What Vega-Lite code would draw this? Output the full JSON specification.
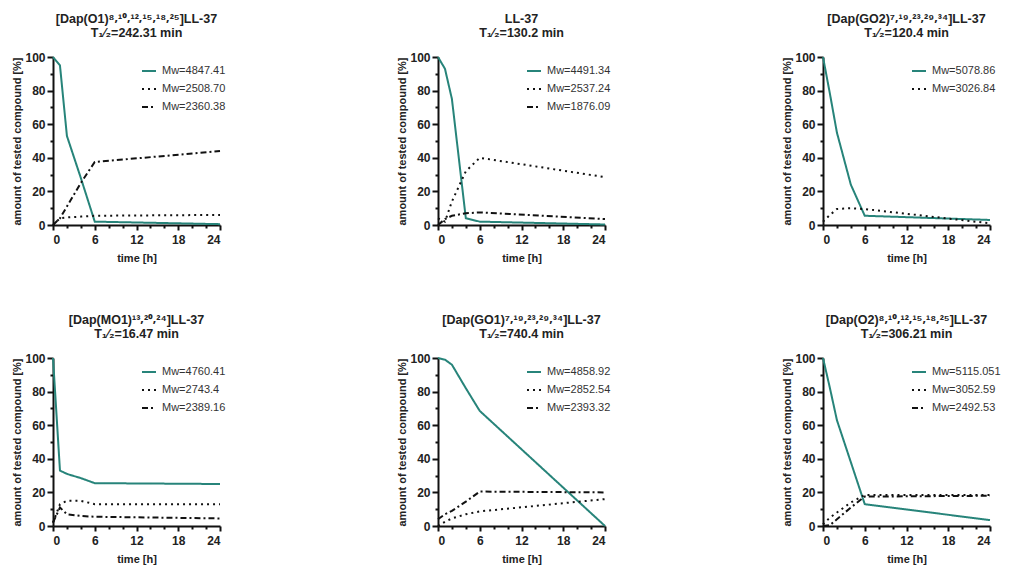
{
  "$schema": "https://vega.github.io/schema/vega-lite/v6.json",
  "background": "#ffffff",
  "padding": {"left": 11, "top": 13, "right": 0, "bottom": 8},
  "columns": 3,
  "spacing": {"row": 51, "column": 170},
  "data": {
    "values": [
      {"p": "O1", "s": "Mᴡ=4847.41", "k": 1, "t": 0, "v": 100},
      {"p": "O1", "s": "Mᴡ=4847.41", "k": 1, "t": 1, "v": 95},
      {"p": "O1", "s": "Mᴡ=4847.41", "k": 1, "t": 2, "v": 53},
      {"p": "O1", "s": "Mᴡ=4847.41", "k": 1, "t": 4, "v": 28},
      {"p": "O1", "s": "Mᴡ=4847.41", "k": 1, "t": 6, "v": 2},
      {"p": "O1", "s": "Mᴡ=4847.41", "k": 1, "t": 24, "v": 0.5},
      {"p": "O1", "s": "Mᴡ=2508.70", "k": 2, "t": 0, "v": 0},
      {"p": "O1", "s": "Mᴡ=2508.70", "k": 2, "t": 1, "v": 4},
      {"p": "O1", "s": "Mᴡ=2508.70", "k": 2, "t": 2, "v": 4.5},
      {"p": "O1", "s": "Mᴡ=2508.70", "k": 2, "t": 4, "v": 5},
      {"p": "O1", "s": "Mᴡ=2508.70", "k": 2, "t": 6, "v": 5.5},
      {"p": "O1", "s": "Mᴡ=2508.70", "k": 2, "t": 24, "v": 6},
      {"p": "O1", "s": "Mᴡ=2360.38", "k": 3, "t": 0, "v": 0},
      {"p": "O1", "s": "Mᴡ=2360.38", "k": 3, "t": 1, "v": 4},
      {"p": "O1", "s": "Mᴡ=2360.38", "k": 3, "t": 2, "v": 11},
      {"p": "O1", "s": "Mᴡ=2360.38", "k": 3, "t": 4, "v": 25},
      {"p": "O1", "s": "Mᴡ=2360.38", "k": 3, "t": 6, "v": 37.5},
      {"p": "O1", "s": "Mᴡ=2360.38", "k": 3, "t": 24, "v": 44},

      {"p": "LL", "s": "Mᴡ=4491.34", "k": 1, "t": 0, "v": 100},
      {"p": "LL", "s": "Mᴡ=4491.34", "k": 1, "t": 1, "v": 93},
      {"p": "LL", "s": "Mᴡ=4491.34", "k": 1, "t": 2, "v": 75},
      {"p": "LL", "s": "Mᴡ=4491.34", "k": 1, "t": 4, "v": 4},
      {"p": "LL", "s": "Mᴡ=4491.34", "k": 1, "t": 6, "v": 2},
      {"p": "LL", "s": "Mᴡ=4491.34", "k": 1, "t": 24, "v": 0.3},
      {"p": "LL", "s": "Mᴡ=2537.24", "k": 2, "t": 0, "v": 4},
      {"p": "LL", "s": "Mᴡ=2537.24", "k": 2, "t": 1, "v": 2},
      {"p": "LL", "s": "Mᴡ=2537.24", "k": 2, "t": 2, "v": 14},
      {"p": "LL", "s": "Mᴡ=2537.24", "k": 2, "t": 4, "v": 32},
      {"p": "LL", "s": "Mᴡ=2537.24", "k": 2, "t": 6, "v": 40},
      {"p": "LL", "s": "Mᴡ=2537.24", "k": 2, "t": 24, "v": 28.5},
      {"p": "LL", "s": "Mᴡ=1876.09", "k": 3, "t": 0, "v": 0},
      {"p": "LL", "s": "Mᴡ=1876.09", "k": 3, "t": 1, "v": 3.5},
      {"p": "LL", "s": "Mᴡ=1876.09", "k": 3, "t": 2, "v": 5.5},
      {"p": "LL", "s": "Mᴡ=1876.09", "k": 3, "t": 4, "v": 7},
      {"p": "LL", "s": "Mᴡ=1876.09", "k": 3, "t": 6, "v": 7.5},
      {"p": "LL", "s": "Mᴡ=1876.09", "k": 3, "t": 24, "v": 3.5},

      {"p": "GO2", "s": "Mᴡ=5078.86", "k": 1, "t": 0, "v": 100},
      {"p": "GO2", "s": "Mᴡ=5078.86", "k": 1, "t": 1, "v": 78},
      {"p": "GO2", "s": "Mᴡ=5078.86", "k": 1, "t": 2, "v": 55},
      {"p": "GO2", "s": "Mᴡ=5078.86", "k": 1, "t": 4, "v": 24},
      {"p": "GO2", "s": "Mᴡ=5078.86", "k": 1, "t": 6, "v": 5.5},
      {"p": "GO2", "s": "Mᴡ=5078.86", "k": 1, "t": 24, "v": 3},
      {"p": "GO2", "s": "Mᴡ=3026.84", "k": 2, "t": 0, "v": 2},
      {"p": "GO2", "s": "Mᴡ=3026.84", "k": 2, "t": 1, "v": 6},
      {"p": "GO2", "s": "Mᴡ=3026.84", "k": 2, "t": 2, "v": 9.5},
      {"p": "GO2", "s": "Mᴡ=3026.84", "k": 2, "t": 4, "v": 10},
      {"p": "GO2", "s": "Mᴡ=3026.84", "k": 2, "t": 6, "v": 9.5},
      {"p": "GO2", "s": "Mᴡ=3026.84", "k": 2, "t": 24, "v": 1},

      {"p": "MO1", "s": "Mᴡ=4760.41", "k": 1, "t": 0, "v": 100},
      {"p": "MO1", "s": "Mᴡ=4760.41", "k": 1, "t": 1, "v": 33},
      {"p": "MO1", "s": "Mᴡ=4760.41", "k": 1, "t": 2, "v": 31},
      {"p": "MO1", "s": "Mᴡ=4760.41", "k": 1, "t": 4, "v": 28.5},
      {"p": "MO1", "s": "Mᴡ=4760.41", "k": 1, "t": 6, "v": 25.5},
      {"p": "MO1", "s": "Mᴡ=4760.41", "k": 1, "t": 24, "v": 25},
      {"p": "MO1", "s": "Mᴡ=2743.4", "k": 2, "t": 0, "v": 2},
      {"p": "MO1", "s": "Mᴡ=2743.4", "k": 2, "t": 1, "v": 13},
      {"p": "MO1", "s": "Mᴡ=2743.4", "k": 2, "t": 2, "v": 15},
      {"p": "MO1", "s": "Mᴡ=2743.4", "k": 2, "t": 4, "v": 15},
      {"p": "MO1", "s": "Mᴡ=2743.4", "k": 2, "t": 6, "v": 13},
      {"p": "MO1", "s": "Mᴡ=2743.4", "k": 2, "t": 24, "v": 13},
      {"p": "MO1", "s": "Mᴡ=2389.16", "k": 3, "t": 0, "v": 2},
      {"p": "MO1", "s": "Mᴡ=2389.16", "k": 3, "t": 1, "v": 11},
      {"p": "MO1", "s": "Mᴡ=2389.16", "k": 3, "t": 2, "v": 7},
      {"p": "MO1", "s": "Mᴡ=2389.16", "k": 3, "t": 4, "v": 6},
      {"p": "MO1", "s": "Mᴡ=2389.16", "k": 3, "t": 6, "v": 5.5},
      {"p": "MO1", "s": "Mᴡ=2389.16", "k": 3, "t": 24, "v": 4.5},

      {"p": "GO1", "s": "Mᴡ=4858.92", "k": 1, "t": 0, "v": 100},
      {"p": "GO1", "s": "Mᴡ=4858.92", "k": 1, "t": 1, "v": 99},
      {"p": "GO1", "s": "Mᴡ=4858.92", "k": 1, "t": 2, "v": 96},
      {"p": "GO1", "s": "Mᴡ=4858.92", "k": 1, "t": 4, "v": 82},
      {"p": "GO1", "s": "Mᴡ=4858.92", "k": 1, "t": 6, "v": 68.5},
      {"p": "GO1", "s": "Mᴡ=4858.92", "k": 1, "t": 24, "v": 0},
      {"p": "GO1", "s": "Mᴡ=2852.54", "k": 2, "t": 0, "v": 0},
      {"p": "GO1", "s": "Mᴡ=2852.54", "k": 2, "t": 1, "v": 2.5},
      {"p": "GO1", "s": "Mᴡ=2852.54", "k": 2, "t": 2, "v": 4.5},
      {"p": "GO1", "s": "Mᴡ=2852.54", "k": 2, "t": 4, "v": 7},
      {"p": "GO1", "s": "Mᴡ=2852.54", "k": 2, "t": 6, "v": 8.7},
      {"p": "GO1", "s": "Mᴡ=2852.54", "k": 2, "t": 24, "v": 16},
      {"p": "GO1", "s": "Mᴡ=2393.32", "k": 3, "t": 0, "v": 4},
      {"p": "GO1", "s": "Mᴡ=2393.32", "k": 3, "t": 1, "v": 7},
      {"p": "GO1", "s": "Mᴡ=2393.32", "k": 3, "t": 2, "v": 9},
      {"p": "GO1", "s": "Mᴡ=2393.32", "k": 3, "t": 4, "v": 14.5},
      {"p": "GO1", "s": "Mᴡ=2393.32", "k": 3, "t": 6, "v": 20.5},
      {"p": "GO1", "s": "Mᴡ=2393.32", "k": 3, "t": 24, "v": 20},

      {"p": "O2", "s": "Mᴡ=5115.051", "k": 1, "t": 0, "v": 100},
      {"p": "O2", "s": "Mᴡ=5115.051", "k": 1, "t": 1, "v": 82},
      {"p": "O2", "s": "Mᴡ=5115.051", "k": 1, "t": 2, "v": 63},
      {"p": "O2", "s": "Mᴡ=5115.051", "k": 1, "t": 4, "v": 38},
      {"p": "O2", "s": "Mᴡ=5115.051", "k": 1, "t": 6, "v": 13},
      {"p": "O2", "s": "Mᴡ=5115.051", "k": 1, "t": 24, "v": 3.5},
      {"p": "O2", "s": "Mᴡ=3052.59", "k": 2, "t": 0, "v": 1},
      {"p": "O2", "s": "Mᴡ=3052.59", "k": 2, "t": 1, "v": 5},
      {"p": "O2", "s": "Mᴡ=3052.59", "k": 2, "t": 2, "v": 8},
      {"p": "O2", "s": "Mᴡ=3052.59", "k": 2, "t": 4, "v": 14},
      {"p": "O2", "s": "Mᴡ=3052.59", "k": 2, "t": 6, "v": 18.5},
      {"p": "O2", "s": "Mᴡ=3052.59", "k": 2, "t": 24, "v": 18.5},
      {"p": "O2", "s": "Mᴡ=2492.53", "k": 3, "t": 0, "v": 0},
      {"p": "O2", "s": "Mᴡ=2492.53", "k": 3, "t": 1, "v": 0.5},
      {"p": "O2", "s": "Mᴡ=2492.53", "k": 3, "t": 2, "v": 4},
      {"p": "O2", "s": "Mᴡ=2492.53", "k": 3, "t": 4, "v": 11},
      {"p": "O2", "s": "Mᴡ=2492.53", "k": 3, "t": 6, "v": 17.5},
      {"p": "O2", "s": "Mᴡ=2492.53", "k": 3, "t": 24, "v": 18}
    ]
  },
  "resolve": {"scale": {"color": "independent", "strokeDash": "independent"}},
  "concat": [
    {
      "title": {"text": "[Dap(O1)⁸⸴¹⁰⸴¹²⸴¹⁵⸴¹⁸⸴²⁵]LL-37", "subtitle": "T₁⁄₂=242.31 min"},
      "width": 167, "height": 168,
      "transform": [{"filter": "datum.p === 'O1'"}],
      "mark": {"type": "line", "strokeWidth": 2},
      "encoding": {
        "x": {"field": "t", "type": "quantitative", "title": "time [h]", "scale": {"domain": [0, 24], "nice": false},
              "axis": {"values": [0, 2, 4, 6, 8, 10, 12, 14, 16, 18, 20, 22, 24], "labelExpr": "datum.value % 6 === 0 ? datum.label : ''",
                       "tickSize": {"condition": {"test": "datum.value % 6 === 0", "value": 5}, "value": 3}}},
        "y": {"field": "v", "type": "quantitative", "title": "amount of tested compound [%]", "scale": {"domain": [0, 100], "nice": false},
              "axis": {"values": [0, 10, 20, 30, 40, 50, 60, 70, 80, 90, 100], "labelExpr": "datum.value % 20 === 0 ? datum.label : ''",
                       "tickSize": {"condition": {"test": "datum.value % 20 === 0", "value": 6}, "value": 3}}},
        "color": {"field": "s", "type": "nominal", "sort": {"field": "k", "op": "min"}, "scale": {"range": ["#27847a", "#111111", "#111111"]}},
        "strokeDash": {"field": "s", "type": "nominal", "sort": {"field": "k", "op": "min"}, "scale": {"range": [[1, 0], [2, 4], [6, 3, 2, 3]]}}
      }
    },
    {
      "title": {"text": "LL-37", "subtitle": "T₁⁄₂=130.2 min"},
      "width": 167, "height": 168,
      "transform": [{"filter": "datum.p === 'LL'"}],
      "mark": {"type": "line", "strokeWidth": 2},
      "encoding": {
        "x": {"field": "t", "type": "quantitative", "title": "time [h]", "scale": {"domain": [0, 24], "nice": false},
              "axis": {"values": [0, 2, 4, 6, 8, 10, 12, 14, 16, 18, 20, 22, 24], "labelExpr": "datum.value % 6 === 0 ? datum.label : ''",
                       "tickSize": {"condition": {"test": "datum.value % 6 === 0", "value": 5}, "value": 3}}},
        "y": {"field": "v", "type": "quantitative", "title": "amount of tested compound [%]", "scale": {"domain": [0, 100], "nice": false},
              "axis": {"values": [0, 10, 20, 30, 40, 50, 60, 70, 80, 90, 100], "labelExpr": "datum.value % 20 === 0 ? datum.label : ''",
                       "tickSize": {"condition": {"test": "datum.value % 20 === 0", "value": 6}, "value": 3}}},
        "color": {"field": "s", "type": "nominal", "sort": {"field": "k", "op": "min"}, "scale": {"range": ["#27847a", "#111111", "#111111"]}},
        "strokeDash": {"field": "s", "type": "nominal", "sort": {"field": "k", "op": "min"}, "scale": {"range": [[1, 0], [2, 4], [6, 3, 2, 3]]}}
      }
    },
    {
      "title": {"text": "[Dap(GO2)⁷⸴¹⁹⸴²³⸴²⁹⸴³⁴]LL-37", "subtitle": "T₁⁄₂=120.4 min"},
      "width": 167, "height": 168,
      "transform": [{"filter": "datum.p === 'GO2'"}],
      "mark": {"type": "line", "strokeWidth": 2},
      "encoding": {
        "x": {"field": "t", "type": "quantitative", "title": "time [h]", "scale": {"domain": [0, 24], "nice": false},
              "axis": {"values": [0, 2, 4, 6, 8, 10, 12, 14, 16, 18, 20, 22, 24], "labelExpr": "datum.value % 6 === 0 ? datum.label : ''",
                       "tickSize": {"condition": {"test": "datum.value % 6 === 0", "value": 5}, "value": 3}}},
        "y": {"field": "v", "type": "quantitative", "title": "amount of tested compound [%]", "scale": {"domain": [0, 100], "nice": false},
              "axis": {"values": [0, 10, 20, 30, 40, 50, 60, 70, 80, 90, 100], "labelExpr": "datum.value % 20 === 0 ? datum.label : ''",
                       "tickSize": {"condition": {"test": "datum.value % 20 === 0", "value": 6}, "value": 3}}},
        "color": {"field": "s", "type": "nominal", "sort": {"field": "k", "op": "min"}, "scale": {"range": ["#27847a", "#111111"]}},
        "strokeDash": {"field": "s", "type": "nominal", "sort": {"field": "k", "op": "min"}, "scale": {"range": [[1, 0], [2, 4]]}}
      }
    },
    {
      "title": {"text": "[Dap(MO1)¹³⸴²⁰⸴²⁴]LL-37", "subtitle": "T₁⁄₂=16.47 min"},
      "width": 167, "height": 168,
      "transform": [{"filter": "datum.p === 'MO1'"}],
      "mark": {"type": "line", "strokeWidth": 2},
      "encoding": {
        "x": {"field": "t", "type": "quantitative", "title": "time [h]", "scale": {"domain": [0, 24], "nice": false},
              "axis": {"values": [0, 2, 4, 6, 8, 10, 12, 14, 16, 18, 20, 22, 24], "labelExpr": "datum.value % 6 === 0 ? datum.label : ''",
                       "tickSize": {"condition": {"test": "datum.value % 6 === 0", "value": 5}, "value": 3}}},
        "y": {"field": "v", "type": "quantitative", "title": "amount of tested compound [%]", "scale": {"domain": [0, 100], "nice": false},
              "axis": {"values": [0, 10, 20, 30, 40, 50, 60, 70, 80, 90, 100], "labelExpr": "datum.value % 20 === 0 ? datum.label : ''",
                       "tickSize": {"condition": {"test": "datum.value % 20 === 0", "value": 6}, "value": 3}}},
        "color": {"field": "s", "type": "nominal", "sort": {"field": "k", "op": "min"}, "scale": {"range": ["#27847a", "#111111", "#111111"]}},
        "strokeDash": {"field": "s", "type": "nominal", "sort": {"field": "k", "op": "min"}, "scale": {"range": [[1, 0], [2, 4], [6, 3, 2, 3]]}}
      }
    },
    {
      "title": {"text": "[Dap(GO1)⁷⸴¹⁹⸴²³⸴²⁹⸴³⁴]LL-37", "subtitle": "T₁⁄₂=740.4 min"},
      "width": 167, "height": 168,
      "transform": [{"filter": "datum.p === 'GO1'"}],
      "mark": {"type": "line", "strokeWidth": 2},
      "encoding": {
        "x": {"field": "t", "type": "quantitative", "title": "time [h]", "scale": {"domain": [0, 24], "nice": false},
              "axis": {"values": [0, 2, 4, 6, 8, 10, 12, 14, 16, 18, 20, 22, 24], "labelExpr": "datum.value % 6 === 0 ? datum.label : ''",
                       "tickSize": {"condition": {"test": "datum.value % 6 === 0", "value": 5}, "value": 3}}},
        "y": {"field": "v", "type": "quantitative", "title": "amount of tested compound [%]", "scale": {"domain": [0, 100], "nice": false},
              "axis": {"values": [0, 10, 20, 30, 40, 50, 60, 70, 80, 90, 100], "labelExpr": "datum.value % 20 === 0 ? datum.label : ''",
                       "tickSize": {"condition": {"test": "datum.value % 20 === 0", "value": 6}, "value": 3}}},
        "color": {"field": "s", "type": "nominal", "sort": {"field": "k", "op": "min"}, "scale": {"range": ["#27847a", "#111111", "#111111"]}},
        "strokeDash": {"field": "s", "type": "nominal", "sort": {"field": "k", "op": "min"}, "scale": {"range": [[1, 0], [2, 4], [6, 3, 2, 3]]}}
      }
    },
    {
      "title": {"text": "[Dap(O2)⁸⸴¹⁰⸴¹²⸴¹⁵⸴¹⁸⸴²⁵]LL-37", "subtitle": "T₁⁄₂=306.21 min"},
      "width": 167, "height": 168,
      "transform": [{"filter": "datum.p === 'O2'"}],
      "mark": {"type": "line", "strokeWidth": 2},
      "encoding": {
        "x": {"field": "t", "type": "quantitative", "title": "time [h]", "scale": {"domain": [0, 24], "nice": false},
              "axis": {"values": [0, 2, 4, 6, 8, 10, 12, 14, 16, 18, 20, 22, 24], "labelExpr": "datum.value % 6 === 0 ? datum.label : ''",
                       "tickSize": {"condition": {"test": "datum.value % 6 === 0", "value": 5}, "value": 3}}},
        "y": {"field": "v", "type": "quantitative", "title": "amount of tested compound [%]", "scale": {"domain": [0, 100], "nice": false},
              "axis": {"values": [0, 10, 20, 30, 40, 50, 60, 70, 80, 90, 100], "labelExpr": "datum.value % 20 === 0 ? datum.label : ''",
                       "tickSize": {"condition": {"test": "datum.value % 20 === 0", "value": 6}, "value": 3}}},
        "color": {"field": "s", "type": "nominal", "sort": {"field": "k", "op": "min"}, "scale": {"range": ["#27847a", "#111111", "#111111"]}},
        "strokeDash": {"field": "s", "type": "nominal", "sort": {"field": "k", "op": "min"}, "scale": {"range": [[1, 0], [2, 4], [6, 3, 2, 3]]}}
      }
    }
  ],
  "config": {
    "font": "Liberation Sans, Noto Sans, DejaVu Sans",
    "view": {"stroke": null},
    "axis": {
      "grid": false,
      "domainColor": "#111111", "domainWidth": 2,
      "tickColor": "#111111", "tickWidth": 2,
      "labelFontSize": 12, "labelFontWeight": "bold", "labelColor": "#222222", "labelPadding": 2,
      "titleFontSize": 11, "titleFontWeight": "bold", "titleColor": "#222222",
      "labelOverlap": false
    },
    "axisX": {"titlePadding": 7, "labelPadding": 4},
    "axisY": {"titlePadding": 2},
    "legend": {
      "orient": "none", "legendX": 88, "legendY": 6,
      "title": null,
      "labelFontSize": 11, "labelColor": "#333333",
      "symbolType": "stroke", "symbolSize": 196, "symbolStrokeWidth": 2,
      "rowPadding": 5, "labelOffset": 5
    },
    "title": {
      "fontSize": 12.5, "fontWeight": "bold", "color": "#222222",
      "subtitleFontSize": 12.5, "subtitleFontWeight": "bold", "subtitleColor": "#222222", "subtitlePadding": 1,
      "frame": "group", "anchor": "middle", "offset": 12
    }
  }
}
